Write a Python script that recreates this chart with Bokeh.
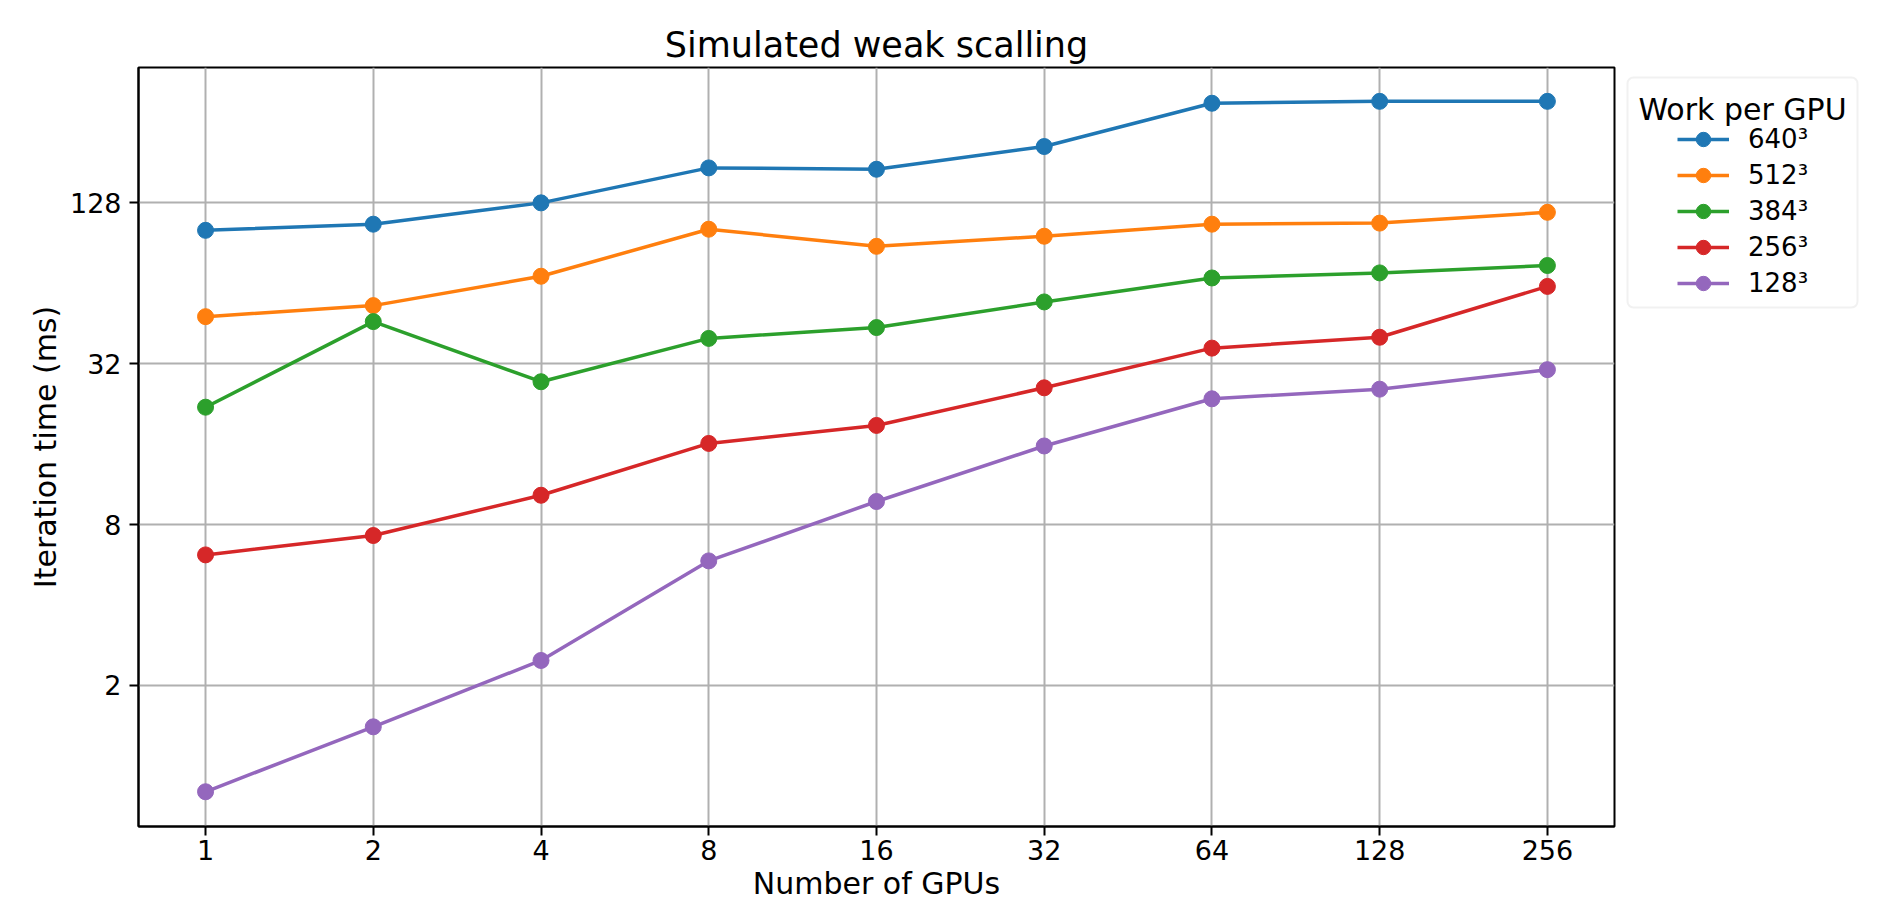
from bokeh.plotting import figure
from bokeh.layouts import row
from bokeh.models import (Range1d, FixedTicker, Legend, LegendItem, Label,
                          BoxAnnotation, NumeralTickFormatter, ColumnDataSource)
from bokeh.embed import file_html
from bokeh.resources import INLINE

# ---- data ----
gpus = [1, 2, 4, 8, 16, 32, 64, 128, 256]
t640 = [101, 106.5, 128, 173, 171, 208, 302, 307, 307]
t512 = [48, 52.8, 68, 102, 88, 96, 106.5, 107.5, 118]
t384 = [22, 46, 27.4, 39.8, 43.7, 54.5, 67, 70, 74.6]
t256 = [6.16, 7.28, 10.3, 16.1, 18.8, 26, 36.6, 40.2, 62.3]
t128 = [0.80, 1.40, 2.48, 5.85, 9.76, 15.75, 23.65, 25.7, 30.4]
series_labels = ["640³", "512³", "384³", "256³", "128³"]
series_values = [t640, t512, t384, t256, t128]
colors = ["#1f77b4", "#ff7f0e", "#2ca02c", "#d62728", "#9467bd"]
x_ticks = gpus
y_ticks = [2, 8, 32, 128]
legend_title = "Work per GPU"

FONT = "DejaVu Sans"
W, H = 1894, 903
MAIN_W = 1620
BORDER_TOP, BORDER_BOTTOM = 67, 76

p = figure(width=MAIN_W, height=H, x_axis_type="log", y_axis_type="log",
           x_range=Range1d(0.758, 337.8), y_range=Range1d(0.593, 411),
           output_backend="svg", toolbar_location=None,
           title="Simulated weak scalling",
           min_border_left=138, min_border_right=6,
           min_border_top=BORDER_TOP, min_border_bottom=BORDER_BOTTOM)

p.background_fill_color = "white"
p.border_fill_color = "white"
p.outline_line_color = "black"
p.outline_line_width = 2
p.outline_line_alpha = 1

p.title.align = "center"
p.title.text_font = FONT
p.title.text_font_size = "35px"
p.title.text_font_style = "normal"
p.title.text_color = "black"
p.title.standoff = 5

p.xaxis.ticker = FixedTicker(ticks=x_ticks)
p.yaxis.ticker = FixedTicker(ticks=y_ticks)
for ax in (p.xaxis, p.yaxis):
    ax.formatter = NumeralTickFormatter(format="0")
    ax.major_label_text_font = FONT
    ax.major_label_text_font_size = "27px"
    ax.major_label_text_color = "black"
    ax.axis_label_text_font = FONT
    ax.axis_label_text_font_size = "30px"
    ax.axis_label_text_font_style = "normal"
    ax.axis_label_text_color = "black"
    ax.axis_line_color = "black"
    ax.axis_line_width = 2
    ax.major_tick_line_color = "black"
    ax.major_tick_line_width = 2
    ax.major_tick_out = 9
    ax.major_tick_in = 0
    ax.minor_tick_line_color = None

p.xaxis.axis_label = "Number of GPUs"
p.yaxis.axis_label = "Iteration time (ms)"
p.xaxis.major_label_standoff = 4
p.xaxis.axis_label_standoff = 3
p.yaxis.major_label_standoff = 8
p.yaxis.axis_label_standoff = 4

p.grid.grid_line_color = "#b0b0b0"
p.grid.grid_line_width = 2
p.grid.minor_grid_line_color = None

sources = []
for lab, vals, col in zip(series_labels, series_values, colors):
    src = ColumnDataSource(dict(x=gpus, y=vals))
    sources.append(src)
    p.line("x", "y", source=src, line_color=col, line_width=3.5)
    p.scatter("x", "y", source=src, marker="circle", size=16,
              fill_color=col, line_color=col)

# ---- legend panel: separate canvas on the right; its ranges keep the
# (shared) data out of view so only the legend samples show ----
LW = W - MAIN_W
q = figure(width=LW, height=H, x_range=Range1d(1000, 2000),
           y_range=Range1d(1000, 2000),
           output_backend="svg", toolbar_location=None,
           x_axis_location=None, y_axis_location=None,
           min_border_left=0, min_border_right=0,
           min_border_top=BORDER_TOP, min_border_bottom=BORDER_BOTTOM)
q.outline_line_color = None
q.grid.visible = False
q.background_fill_color = "white"
q.border_fill_color = "white"

FRAME_BOTTOM = H - BORDER_BOTTOM  # 827

items = []
for lab, src, col in zip(series_labels, sources, colors):
    lr = q.line("x", "y", source=src, line_color=col, line_width=3.5)
    sr = q.scatter("x", "y", source=src, marker="circle",
                   fill_color=col, line_color=col)
    items.append(LegendItem(label=lab, renderers=[lr, sr]))

box = BoxAnnotation(left=7, right=237,
                    bottom=FRAME_BOTTOM - 308, top=FRAME_BOTTOM - 78,
                    left_units="screen", right_units="screen",
                    top_units="screen", bottom_units="screen",
                    fill_color="white", fill_alpha=1.0,
                    line_color="#d0d0d0", line_width=2, border_radius=6)
q.add_layout(box)

legend = Legend(items=items, location=(57, FRAME_BOTTOM - 302), padding=0,
                margin=0, border_line_color=None, background_fill_alpha=0,
                glyph_width=52, glyph_height=36, label_height=34, spacing=0,
                label_standoff=19, label_text_font=FONT,
                label_text_font_size="26px", label_text_color="black")
q.add_layout(legend)

ltitle = Label(x=122, y=FRAME_BOTTOM - 110, x_units="screen", y_units="screen",
               text=legend_title, text_align="center",
               text_baseline="alphabetic", text_font=FONT,
               text_font_size="30px", text_color="black")
q.add_layout(ltitle)

layout = row(p, q, spacing=0)
open("out.html", "w").write(file_html(layout, INLINE))
